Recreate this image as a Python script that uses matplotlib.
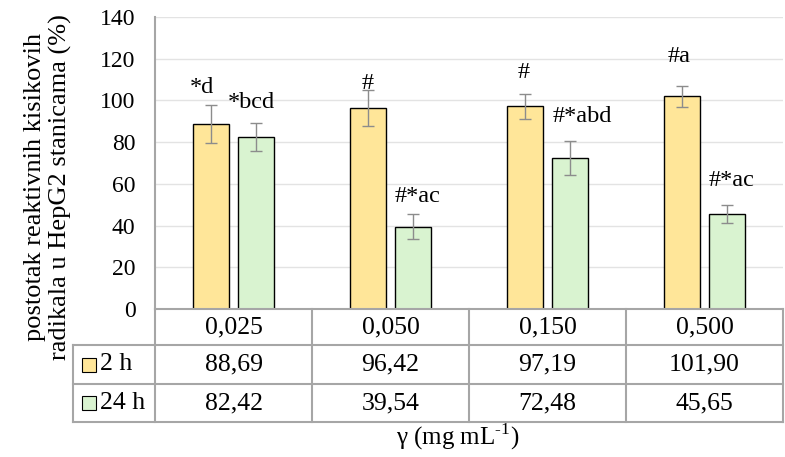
import numpy as np
import matplotlib
matplotlib.use('Agg')
import matplotlib.pyplot as plt
from matplotlib.lines import Line2D
from matplotlib.patches import Rectangle

plt.rcParams['font.family'] = ['Liberation Serif', 'DejaVu Serif']
plt.rcParams['mathtext.fontset'] = 'custom'
plt.rcParams['mathtext.rm'] = 'Liberation Serif'

# data
concentrations = ['0,025', '0,050', '0,150', '0,500']
series_names = ['2 h', '24 h']
vals_2h = [88.69, 96.42, 97.19, 101.90]
vals_24h = [82.42, 39.54, 72.48, 45.65]
err_2h = [9.3, 8.7, 6.1, 5.1]
err_24h = [6.7, 6.2, 8.0, 4.4]
labels_2h = ['*d', '#', '#', '#a']
labels_24h = ['*bcd', '#*ac', '#*abd', '#*ac']
table_2h = ['88,69', '96,42', '97,19', '101,90']
table_24h = ['82,42', '39,54', '72,48', '45,65']

# label heights (data units) and small horizontal nudges (category units)
lab_y_2h = [106.4, 108.3, 113.6, 121.0]
lab_y_24h = [99.2, 53.7, 92.5, 61.8]
lab_dx_2h = [-0.06, 0.0, -0.01, -0.02]
lab_dx_24h = [-0.03, 0.03, 0.08, 0.03]

col_2h = '#FFE699'
col_24h = '#D9F3D0'
line_col = '#A6A6A6'

W, H = 785, 457
fig = plt.figure(figsize=(W / 100, H / 100), dpi=100)

def fx(px):
    return px / W

def fy(py):
    return 1 - py / H

left, right, top, bottom = 155, 783, 17, 309
ax = fig.add_axes([fx(left), fy(bottom), fx(right - left), (bottom - top) / H])

x = np.arange(len(concentrations))
off, bw = 0.143, 0.23
ax.bar(x - off, vals_2h, bw, color=col_2h, edgecolor='black', linewidth=1.0, zorder=3)
ax.bar(x + off, vals_24h, bw, color=col_24h, edgecolor='black', linewidth=1.0, zorder=3)
ax.errorbar(x - off, vals_2h, yerr=err_2h, fmt='none', ecolor='#8C8C8C',
            elinewidth=1.0, capsize=4.3, capthick=1.0, zorder=4)
ax.errorbar(x + off, vals_24h, yerr=err_24h, fmt='none', ecolor='#8C8C8C',
            elinewidth=1.0, capsize=4.3, capthick=1.0, zorder=4)

for i in range(len(x)):
    ax.text(x[i] - off + lab_dx_2h[i], lab_y_2h[i], labels_2h[i], ha='center',
            va='center', fontsize=17.5, zorder=5)
    ax.text(x[i] + off + lab_dx_24h[i], lab_y_24h[i], labels_24h[i], ha='center',
            va='center', fontsize=17.5, zorder=5)

ax.set_xlim(-0.5, 3.5)
ax.set_ylim(0, 140)
ax.set_yticks(np.arange(0, 141, 20))
ax.tick_params(axis='y', length=0, pad=14, labelsize=17)
ax.set_xticks([])
ax.grid(axis='y', color='#E3E3E3', linewidth=1.0, zorder=0)
for s in ['top', 'right', 'bottom']:
    ax.spines[s].set_visible(False)
ax.spines['left'].set_color(line_col)
ax.spines['left'].set_linewidth(1.5)

# data table under the plot
col_edges = [155, 312, 469, 626, 783]
row_edges = [309, 345, 384, 422]
leg_left = 73

def hline(px0, px1, py):
    fig.add_artist(Line2D([fx(px0), fx(px1)], [fy(py), fy(py)], color=line_col, lw=1.5))

def vline(px, py0, py1):
    fig.add_artist(Line2D([fx(px), fx(px)], [fy(py0), fy(py1)], color=line_col, lw=1.5))

hline(left, right, row_edges[0])
for r in row_edges[1:]:
    hline(leg_left, right, r)
for c in col_edges:
    vline(c, row_edges[0], row_edges[3])
vline(leg_left, row_edges[1], row_edges[3])

rows = [concentrations, table_2h, table_24h]
for r, cells in enumerate(rows):
    yc = (row_edges[r] + row_edges[r + 1]) / 2
    for c, txt in enumerate(cells):
        xc = (col_edges[c] + col_edges[c + 1]) / 2
        fig.text(fx(xc), fy(yc), txt, ha='center', va='center', fontsize=18.5)

for k, (name, col) in enumerate(zip(series_names, [col_2h, col_24h])):
    yc = (row_edges[k + 1] + row_edges[k + 2]) / 2
    fig.add_artist(Rectangle((fx(82), fy(yc + 7)), fx(14), 14 / H, facecolor=col,
                             edgecolor='black', linewidth=0.8))
    fig.text(fx(100), fy(yc), name, ha='left', va='center', fontsize=18.5)

fig.text(fx(458), fy(437), r'γ (mg mL$^{\text{-1}}$)', ha='center', va='center', fontsize=18)
fig.text(fx(48), fy(187), 'postotak reaktivnih kisikovih\nradikala u HepG2 stanicama (%)',
         ha='center', va='center', rotation=90, fontsize=19, linespacing=1.2,
         multialignment='center')

fig.savefig('out.png', dpi=100)
